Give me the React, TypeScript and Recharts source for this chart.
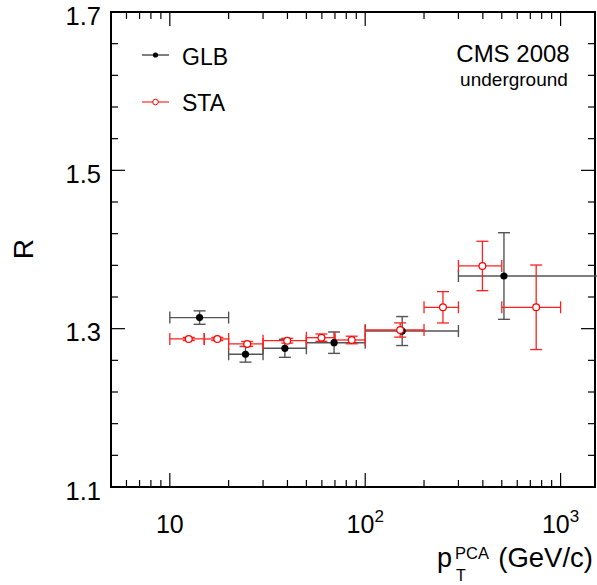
import React from 'react';
import {
  ScatterChart,
  Scatter,
  XAxis,
  YAxis,
  ErrorBar,
  ReferenceArea,
  Customized,
} from 'recharts';

// ---- data ----
const glbPt = [14.2, 24.4, 38.8, 69.3, 154.6, 513];
const glbR = [1.314, 1.2676, 1.2752, 1.2823, 1.297, 1.3665];
const glbRErr = [0.0085, 0.0099, 0.0114, 0.0135, 0.0183, 0.0547];
const glbBinLo = [10, 20, 30, 50, 100, 300];
const glbBinHi = [20, 30, 50, 100, 300, 3000];

const staPt = [12.5, 17.5, 24.9, 39.9, 59.7, 85.3, 151, 250, 398, 750];
const staR = [1.287, 1.287, 1.2807, 1.2848, 1.2886, 1.2857, 1.2983, 1.327, 1.3792, 1.327];
const staRErr = [0.002, 0.002, 0.003, 0.003, 0.0047, 0.0048, 0.009, 0.0198, 0.0312, 0.0534];
const staBinLo = [10, 15, 20, 30, 50, 70, 100, 200, 300, 500];
const staBinHi = [15, 20, 30, 50, 70, 100, 200, 300, 500, 1000];

const xTicks = [6, 7, 8, 9, 10, 20, 30, 40, 50, 60, 70, 80, 90, 100, 200, 300, 400, 500, 600, 700, 800, 900, 1000];
const xMajor = [10, 100, 1000];
const xMajorLabels: Record<number, [string, string]> = { 10: ['10', ''], 100: ['10', '2'], 1000: ['10', '3'] };
const yTicks = [1.1, 1.14, 1.18, 1.22, 1.26, 1.3, 1.34, 1.38, 1.42, 1.46, 1.5, 1.54, 1.58, 1.62, 1.66, 1.7];
const yMajor = [1.1, 1.3, 1.5, 1.7];

const glbData = glbPt.map((x, i) => ({
  x,
  y: glbR[i],
  ex: [x - glbBinLo[i], glbBinHi[i] - x],
  ey: glbRErr[i],
}));
const staData = staPt.map((x, i) => ({
  x,
  y: staR[i],
  ex: [x - staBinLo[i], staBinHi[i] - x],
  ey: staRErr[i],
}));

// ---- layout ----
const W = 597;
const H = 585;
const LEFT = 111;
const TOP = 12;
const RIGHT = 2;
const BOTTOM = 98;
const PLOT_W = W - LEFT - RIGHT;
const PLOT_H = H - TOP - BOTTOM;
const FONT = '"Liberation Sans", Arial, Helvetica, sans-serif';

const XTick = (props: any) => {
  const { x, y, payload } = props;
  const v = payload.value;
  const major = xMajor.includes(v);
  const len = major ? 14 : 7;
  const lbl = xMajorLabels[v];
  return (
    <g>
      <line x1={x} x2={x} y1={y} y2={y - len} stroke="#000" strokeWidth={1.2} />
      <line x1={x} x2={x} y1={y - PLOT_H} y2={y - PLOT_H + len} stroke="#000" strokeWidth={1.2} />
      {lbl && (
        <text x={x} y={y + 46} textAnchor="middle" fontSize={25} fontFamily={FONT} fill="#000">
          {lbl[0]}
          {lbl[1] && (
            <tspan dy={-11} fontSize={17}>
              {lbl[1]}
            </tspan>
          )}
        </text>
      )}
    </g>
  );
};

const YTick = (props: any) => {
  const { x, y, payload } = props;
  const v = payload.value;
  const major = yMajor.some((m) => Math.abs(m - v) < 1e-6);
  const len = major ? 14 : 7;
  return (
    <g>
      <line x1={x} x2={x + len} y1={y} y2={y} stroke="#000" strokeWidth={1.2} />
      <line x1={x + PLOT_W} x2={x + PLOT_W - len} y1={y} y2={y} stroke="#000" strokeWidth={1.2} />
      {major && (
        <text x={x - 10} y={y + 12.5} textAnchor="end" fontSize={25.5} fontFamily={FONT} fill="#000">
          {v.toFixed(1)}
        </text>
      )}
    </g>
  );
};

const GlbDot = (props: any) => <circle cx={props.cx} cy={props.cy} r={3.6} fill="#000" />;
const StaDot = (props: any) => (
  <circle cx={props.cx} cy={props.cy} r={3.4} fill="#fff" stroke="#ff0000" strokeWidth={1.2} />
);

const Labels = () => (
  <g>
    {/* legend */}
    <line x1={142} x2={169} y1={55} y2={55} stroke="#000" strokeWidth={1} />
    <circle cx={155.5} cy={55} r={2.6} fill="#000" />
    <text x={182} y={65} fontSize={23} fontFamily={FONT} fill="#000">GLB</text>
    <line x1={142} x2={169} y1={102} y2={102} stroke="#ff0000" strokeWidth={1} />
    <circle cx={155.5} cy={102} r={2.8} fill="#fff" stroke="#ff0000" strokeWidth={1} />
    <text x={182} y={111} fontSize={23} fontFamily={FONT} fill="#000">STA</text>

    <text x={513} y={62} textAnchor="middle" fontSize={24} fontFamily={FONT} fill="#000">CMS 2008</text>
    <text x={514} y={86} textAnchor="middle" fontSize={19} fontFamily={FONT} fill="#000">underground</text>
    <text
      x={33}
      y={249}
      transform="rotate(-90, 33, 249)"
      textAnchor="middle"
      fontSize={28}
      fontFamily={FONT}
      fill="#000"
    >
      R
    </text>
    <text x={437} y={567} fontSize={27} fontFamily={FONT} fill="#000">p</text>
    <text x={455} y={559} fontSize={16.5} fontFamily={FONT} fill="#000">PCA</text>
    <text x={456} y={581} fontSize={16} fontFamily={FONT} fill="#000">T</text>
    <text x={593} y={567} textAnchor="end" fontSize={27.5} fontFamily={FONT} fill="#000">(GeV/c)</text>
  </g>
);

export default function App() {
  return (
    <div style={{ position: 'absolute', left: 0, top: 0, width: W, height: H, background: '#fff' }}>
      <ScatterChart width={W} height={H} margin={{ top: TOP, right: RIGHT, bottom: 0, left: 0 }}>
        <XAxis
          dataKey="x"
          type="number"
          scale="log"
          domain={[5, 1500]}
          allowDataOverflow
          ticks={xTicks}
          interval={0}
          tick={<XTick />}
          tickSize={0}
          tickMargin={0}
          tickLine={false}
          axisLine={false}
          height={BOTTOM}
        />
        <YAxis
          dataKey="y"
          type="number"
          domain={[1.1, 1.7]}
          allowDataOverflow
          ticks={yTicks}
          interval={0}
          tick={<YTick />}
          tickSize={0}
          tickMargin={0}
          tickLine={false}
          axisLine={false}
          width={LEFT}
        />
        <ReferenceArea
          x1={5}
          x2={1500}
          y1={1.1}
          y2={1.7}
          fill="none"
          stroke="#000"
          strokeWidth={2}
          ifOverflow="visible"
        />
        <Scatter data={glbData} shape={<GlbDot />} isAnimationActive={false}>
          <ErrorBar dataKey="ex" direction="x" width={6} stroke="#555" strokeWidth={1.4} isAnimationActive={false} />
          <ErrorBar dataKey="ey" direction="y" width={6} stroke="#555" strokeWidth={1.4} isAnimationActive={false} />
        </Scatter>
        <Scatter data={staData} shape={<StaDot />} isAnimationActive={false}>
          <ErrorBar dataKey="ex" direction="x" width={6} stroke="#ff2020" strokeWidth={1.3} isAnimationActive={false} />
          <ErrorBar dataKey="ey" direction="y" width={6} stroke="#ff2020" strokeWidth={1.3} isAnimationActive={false} />
        </Scatter>
        <Customized component={<Labels />} />
      </ScatterChart>
    </div>
  );
}
